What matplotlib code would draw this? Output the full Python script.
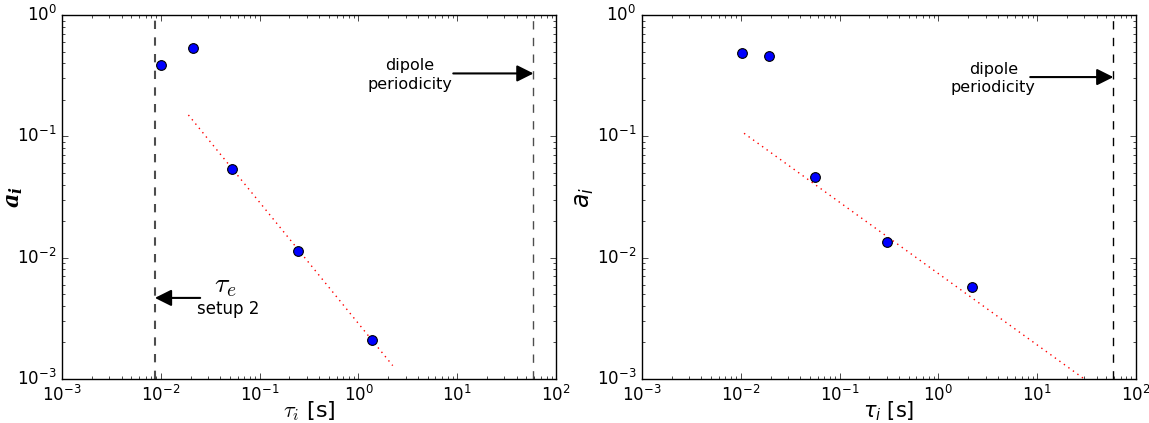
import matplotlib
matplotlib.use("Agg")
import matplotlib.pyplot as plt
import numpy as np

# ---- data ----
tau_left = [0.0100, 0.0211, 0.0525, 0.247, 1.37]
a_left = [0.39, 0.53, 0.054, 0.01145, 0.00209]
fit_left_x = [0.019, 2.22]
fit_left_y = [0.150, 0.00129]

tau_right = [0.0103, 0.0192, 0.0562, 0.305, 2.18]
a_right = [0.483, 0.459, 0.046, 0.0135, 0.00578]
fit_right_x = [0.0108, 30.0]
fit_right_y = [0.106, 0.0010]

tau_e_setup2 = 0.0087
dipole_period = 59.0

plt.style.use('classic')
plt.rcParams['mathtext.fontset'] = 'cm'

fig = plt.figure(figsize=(11.49, 4.23), dpi=100, facecolor='white')
axL = fig.add_axes([0.054, 0.104, 0.430, 0.8605])
axR = fig.add_axes([0.5587, 0.104, 0.430, 0.8605])

for ax in (axL, axR):
    ax.set_xscale('log')
    ax.set_yscale('log')
    ax.set_xlim(1e-3, 1e2)
    ax.set_ylim(1e-3, 1e0)
    ax.set_facecolor('white')
    ax.tick_params(labelsize=12)

# left panel
axL.plot(fit_left_x, fit_left_y, 'r:', lw=1)
axL.plot(tau_left, a_left, 'o', color='blue', mec='black', ms=7, mew=0.8)
axL.axvline(tau_e_setup2, color='0.3', ls='--', lw=1.5)
axL.axvline(dipole_period, color='0.3', ls='--', lw=1)
axL.annotate('', xy=(dipole_period, 0.33), xytext=(9.1, 0.33),
             arrowprops=dict(arrowstyle='-|>', color='black', lw=1.5, mutation_scale=25,
                             shrinkA=0, shrinkB=0))
axL.text(3.3, 0.32, 'dipole\nperiodicity', ha='center', va='center', fontsize=11.5,
         family='DejaVu Sans', linespacing=1.3)
axL.annotate('', xy=(tau_e_setup2, 0.00466), xytext=(0.025, 0.00466),
             arrowprops=dict(arrowstyle='-|>', color='black', lw=1.5, mutation_scale=25,
                             shrinkA=0, shrinkB=0))
axL.text(0.045, 0.0046, r'$\tau_e$', ha='center', va='bottom', fontsize=20)
axL.text(0.048, 0.00448, 'setup 2', ha='center', va='top', fontsize=12,
         family='DejaVu Sans')
axL.set_xlabel(r'$\tau_i$ [s]', fontsize=16)
axL.set_ylabel(r'$\mathbfit{a}_{\mathbfit{i}}$', fontsize=16,
               math_fontfamily='dejavuserif')
axL.xaxis.set_label_coords(0.5, -0.055)
axL.yaxis.set_label_coords(-0.075, 0.5)

# right panel
axR.plot(fit_right_x, fit_right_y, 'r:', lw=1)
axR.plot(tau_right, a_right, 'o', color='blue', mec='black', ms=7, mew=0.8)
axR.axvline(dipole_period, color='black', ls='--', lw=1)
axR.annotate('', xy=(dipole_period, 0.308), xytext=(8.5, 0.308),
             arrowprops=dict(arrowstyle='-|>', color='black', lw=1.5, mutation_scale=25,
                             shrinkA=0, shrinkB=0))
axR.text(3.6, 0.30, 'dipole\nperiodicity', ha='center', va='center', fontsize=11.5,
         family='DejaVu Sans', linespacing=1.3)
axR.set_xlabel(r'$\tau_i$ [s]', fontsize=15, math_fontfamily='dejavusans')
axR.set_ylabel(r'$a_i$', fontsize=17, math_fontfamily='dejavusans')
axR.xaxis.set_label_coords(0.5, -0.055)
axR.yaxis.set_label_coords(-0.093, 0.5)

# right panel tick labels in sans-serif
fig.canvas.draw()
for axis in (axR.xaxis, axR.yaxis):
    for t in axis.get_major_ticks() + axis.get_minor_ticks():
        t.label1.set_math_fontfamily('dejavusans')
        t.label2.set_math_fontfamily('dejavusans')

fig.savefig('out.png', dpi=100, facecolor='white')
